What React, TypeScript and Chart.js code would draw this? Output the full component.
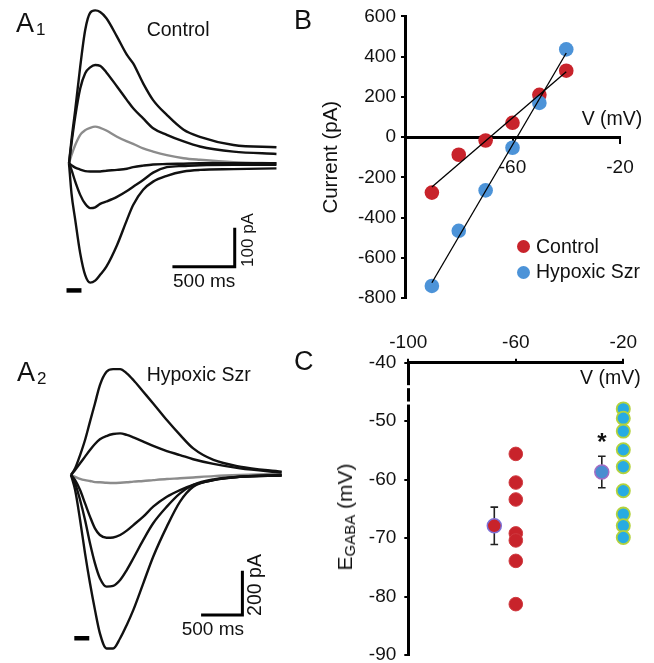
import React, { useEffect, useRef } from "react";
import { Chart, registerables } from "chart.js";

Chart.register(...registerables);

const FONT = '"Liberation Sans", Arial, Helvetica, sans-serif';
const INK = "#111111";

// ---------- A1: Control traces (time ms, current pA) ----------
const a1Time = [0, 20, 50, 90, 130, 170, 210, 250, 300, 385, 465, 515, 595, 675, 785, 920, 1050, 1320, 1665];
const a1Outward1 = [0, 60, 137, 248, 342, 386, 392, 388, 372, 325, 278, 256, 205, 162, 124, 86, 68, 47, 41];
const a1Outward2 = [0, 51, 120, 192, 231, 246, 252, 250, 233, 197, 162, 141, 115, 90, 73, 56, 43, 30, 24];
const a1Grey = [0, 21, 47, 73, 85, 91, 94, 91, 84, 68, 56, 50, 38, 30, 21, 13, 9, 3, 0];
const a1Inward1 = [0, -5, -11, -16, -20, -21, -21, -21, -19, -17, -14, -10, -6, -3, -2, -1, 0, 0, 0];
const a1Inward2 = [0, -17, -47, -81, -104, -115, -113, -104, -98, -86, -71, -60, -43, -24, -10, -7, -5, -4, -4];
const a1Inward3 = [0, -77, -145, -231, -287, -306, -301, -286, -265, -210, -145, -107, -68, -47, -32, -21, -17, -15, -13];

// ---------- A2: Hypoxic seizure traces (time ms, current pA) ----------
const a2Time = [0, 50, 110, 170, 230, 290, 350, 430, 510, 595, 675, 755, 875, 995, 1160, 1320, 1480, 1725, 2045, 2550];
const a2Outward1 = [0, 30, 90, 158, 241, 323, 406, 466, 478, 478, 459, 429, 376, 323, 248, 181, 120, 68, 38, 15];
const a2Outward2 = [0, 23, 53, 83, 113, 140, 161, 176, 185, 188, 181, 170, 151, 131, 108, 90, 71, 50, 30, 11];
const a2Grey = [0, -8, -17, -23, -27, -32, -33, -35, -36, -35, -33, -30, -27, -23, -18, -15, -11, -5, 0, 5];
const a2Inward1 = [0, -23, -68, -128, -188, -241, -271, -283, -282, -271, -251, -226, -188, -143, -98, -68, -45, -23, -8, 0];
const a2Inward2 = [0, -38, -113, -203, -308, -399, -466, -504, -501, -474, -429, -376, -293, -218, -143, -83, -45, -20, -8, -2];
const a2Inward3 = [0, -68, -203, -354, -489, -609, -715, -783, -783, -737, -677, -609, -489, -369, -233, -120, -53, -23, -8, -2];

// ---------- B: I-V relation ----------
const ivVoltage = [-90, -80, -70, -60, -50, -40];
const ivControl = [-276, -88, -17, 71, 210, 330];
const ivHypoxic = [-740, -466, -265, -53, 170, 436];
const ivFitVoltage = [-90, -40];
const ivFitControl = [-248, 325];
const ivFitHypoxic = [-724, 418];
const ivYTicks = { min: -800, max: 600, step: 200 };
const ivXTicks = { min: -100, max: -20, step: 40 };

// ---------- C: E_GABA ----------
const egabaGroupX = [-60, -20];
const egabaControl = [-55.6, -60.5, -63.4, -69.2, -70.4, -73.9, -81.3];
const egabaHypoxic = [-47.9, -49.5, -51.7, -54.9, -57.8, -61.9, -65.9, -67.9, -69.9];
const egabaMeanX = [-68, -28];
const egabaMean = [-67.9, -58.7];
const egabaSem = [3.2, 2.7];
const egabaSignificance = ["", "*"];
const egabaBreaks = [-44.1, -46.9];

const scaleBarA1 = { ms: [830, 1330], pA: [-265, -165], stim: [-20, 100], stimLevel: -326 };
const scaleBarA2 = { ms: [1575, 2075], pA: [-632, -432], stim: [40, 221], stimLevel: -737 };

function TraceChart(props: any) {
  const ref = useRef<HTMLCanvasElement>(null);
  useEffect(() => {
    const { time, traces, bar, xMin, xMax, yMin, yMax } = props;
    const datasets: any[] = traces.map((tr: any) => ({
      data: time.map((t: number, i: number) => ({ x: t, y: tr.values[i] })),
      borderColor: tr.color,
      borderWidth: 2.4,
      pointRadius: 0,
      cubicInterpolationMode: "monotone",
      fill: false,
      clip: false,
    }));
    datasets.push({
      data: [
        { x: bar.ms[0], y: bar.pA[0] },
        { x: bar.ms[1], y: bar.pA[0] },
        { x: bar.ms[1], y: bar.pA[1] },
      ],
      borderColor: "#000",
      borderWidth: 3,
      pointRadius: 0,
      tension: 0,
      borderJoinStyle: "miter",
      borderCapStyle: "butt",
      clip: false,
    });
    datasets.push({
      data: [
        { x: bar.stim[0], y: bar.stimLevel },
        { x: bar.stim[1], y: bar.stimLevel },
      ],
      borderColor: "#000",
      borderWidth: 4.5,
      pointRadius: 0,
      tension: 0,
      borderCapStyle: "butt",
      clip: false,
    });
    const chart = new Chart(ref.current as HTMLCanvasElement, {
      type: "line",
      data: { datasets },
      options: {
        animation: false,
        responsive: false,
        maintainAspectRatio: false,
        events: [],
        layout: { padding: 0 },
        plugins: { legend: { display: false }, tooltip: { enabled: false } },
        scales: {
          x: { type: "linear", display: false, min: xMin, max: xMax },
          y: { type: "linear", display: false, min: yMin, max: yMax },
        },
      } as any,
    });
    return () => chart.destroy();
  }, []);
  return (
    <canvas
      ref={ref}
      width={props.width}
      height={props.height}
      style={{ position: "absolute", left: props.left, top: props.top, width: props.width, height: props.height }}
    />
  );
}

const tickFont = { family: FONT, size: 19 };

function IVChart() {
  const ref = useRef<HTMLCanvasElement>(null);
  useEffect(() => {
    const chart = new Chart(ref.current as HTMLCanvasElement, {
      type: "scatter",
      data: {
        datasets: [
          {
            label: "fit control",
            data: ivFitVoltage.map((v, i) => ({ x: v, y: ivFitControl[i] })),
            showLine: true,
            borderColor: "#000",
            borderWidth: 1.3,
            pointRadius: 0,
            order: 0,
            clip: false,
          },
          {
            label: "fit hypoxic",
            data: ivFitVoltage.map((v, i) => ({ x: v, y: ivFitHypoxic[i] })),
            showLine: true,
            borderColor: "#000",
            borderWidth: 1.3,
            pointRadius: 0,
            order: 1,
            clip: false,
          },
          {
            label: "Hypoxic Szr",
            data: ivVoltage.map((v, i) => ({ x: v, y: ivHypoxic[i] })),
            backgroundColor: "#4c93d8",
            borderColor: "#4c93d8",
            borderWidth: 0,
            pointRadius: 7.3,
            order: 2,
            clip: false,
          },
          {
            label: "Control",
            data: ivVoltage.map((v, i) => ({ x: v, y: ivControl[i] })),
            backgroundColor: "#c8232b",
            borderColor: "#c8232b",
            borderWidth: 0,
            pointRadius: 7.3,
            order: 3,
            clip: false,
          },
        ],
      },
      options: {
        animation: false,
        responsive: false,
        maintainAspectRatio: false,
        events: [],
        layout: { padding: { left: 0, top: 15.5, right: 34, bottom: 22 } },
        plugins: { legend: { display: false }, tooltip: { enabled: false } },
        scales: {
          x: {
            type: "linear",
            min: ivXTicks.min,
            max: ivXTicks.max,
            position: { y: 0 },
            afterFit: (s: any) => {
              s.height = 0;
            },
            ticks: {
              stepSize: ivXTicks.step,
              font: tickFont,
              color: INK,
              padding: 14,
              maxRotation: 0,
              autoSkip: false,
              callback: (v: any) => (v === ivXTicks.min ? "" : String(v)),
            },
            grid: { drawOnChartArea: false, drawTicks: true, tickLength: 5, color: "#000", lineWidth: 2 },
            border: { display: true, color: "#000", width: 3 },
          },
          y: {
            type: "linear",
            min: ivYTicks.min,
            max: ivYTicks.max,
            position: "left",
            afterFit: (s: any) => {
              s.width = 105;
            },
            ticks: { stepSize: ivYTicks.step, font: tickFont, color: INK, padding: 5 },
            grid: { drawOnChartArea: false, drawTicks: true, tickLength: 4, color: "#000", lineWidth: 2 },
            border: { display: true, color: "#000", width: 3 },
            title: {
              display: true,
              text: "Current (pA)",
              color: INK,
              font: { family: FONT, size: 20.5 },
              padding: { top: 19.4, bottom: 0 },
            },
          },
        },
      } as any,
    });
    return () => chart.destroy();
  }, []);
  return (
    <canvas ref={ref} width={354} height={320} style={{ position: "absolute", left: 300, top: 0, width: 354, height: 320 }} />
  );
}

const errorBarPlugin = {
  id: "egabaErrorBars",
  beforeDatasetsDraw(chart: any) {
    const { ctx } = chart;
    const xs = chart.scales.x;
    const ys = chart.scales.y;
    ctx.save();
    ctx.strokeStyle = "#222";
    ctx.lineWidth = 1.6;
    egabaMean.forEach((m, i) => {
      const px = xs.getPixelForValue(egabaMeanX[i]);
      const top = ys.getPixelForValue(m + egabaSem[i]);
      const bot = ys.getPixelForValue(m - egabaSem[i]);
      ctx.beginPath();
      ctx.moveTo(px, top);
      ctx.lineTo(px, bot);
      ctx.moveTo(px - 3.8, top);
      ctx.lineTo(px + 3.8, top);
      ctx.moveTo(px - 3.8, bot);
      ctx.lineTo(px + 3.8, bot);
      ctx.stroke();
      if (egabaSignificance[i]) {
        ctx.fillStyle = INK;
        ctx.font = `bold 24px ${FONT}`;
        ctx.textAlign = "center";
        ctx.textBaseline = "alphabetic";
        ctx.fillText(egabaSignificance[i], px, top - 6);
      }
    });
    ctx.restore();
  },
};

const axisBreakPlugin = {
  id: "axisBreak",
  afterDraw(chart: any) {
    const { ctx, chartArea } = chart;
    const ys = chart.scales.y;
    ctx.save();
    ctx.fillStyle = "#ffffff";
    egabaBreaks.forEach((v) => {
      const py = ys.getPixelForValue(v);
      ctx.fillRect(chartArea.left - 4, py - 1.5, 8, 3);
    });
    ctx.restore();
  },
};

function EgabaChart() {
  const ref = useRef<HTMLCanvasElement>(null);
  useEffect(() => {
    const chart = new Chart(ref.current as HTMLCanvasElement, {
      type: "scatter",
      data: {
        datasets: [
          {
            label: "Control mean",
            data: [{ x: egabaMeanX[0], y: egabaMean[0] }],
            backgroundColor: "#c8232b",
            borderColor: "#7d6fd6",
            borderWidth: 1.5,
            pointRadius: 7,
            order: 0,
            clip: false,
          },
          {
            label: "Hypoxic mean",
            data: [{ x: egabaMeanX[1], y: egabaMean[1] }],
            backgroundColor: "#4a8dd0",
            borderColor: "#a46cc4",
            borderWidth: 1.5,
            pointRadius: 7,
            order: 1,
            clip: false,
          },
          {
            label: "Control",
            data: egabaControl.map((v) => ({ x: egabaGroupX[0], y: v })),
            backgroundColor: "#c8232b",
            borderColor: "#cf3a40",
            borderWidth: 1,
            pointRadius: 6.8,
            order: 2,
            clip: false,
          },
          {
            label: "Hypoxic Szr",
            data: egabaHypoxic.map((v) => ({ x: egabaGroupX[1], y: v })),
            backgroundColor: "#27abe2",
            borderColor: "#b3d23c",
            borderWidth: 1.8,
            pointRadius: 6.6,
            order: 3,
            clip: false,
          },
        ],
      },
      options: {
        animation: false,
        responsive: false,
        maintainAspectRatio: false,
        events: [],
        layout: { padding: { left: 0, top: 0, right: 30.7, bottom: 25 } },
        plugins: { legend: { display: false }, tooltip: { enabled: false } },
        scales: {
          x: {
            type: "linear",
            min: -100,
            max: -20,
            position: "top",
            afterFit: (s: any) => {
              s.height = 42.7;
            },
            ticks: { stepSize: 40, font: tickFont, color: INK, padding: 4.3, maxRotation: 0, autoSkip: false },
            grid: { drawOnChartArea: false, drawTicks: true, tickLength: 4, color: "#000", lineWidth: 2 },
            border: { display: true, color: "#000", width: 3 },
          },
          y: {
            type: "linear",
            min: -90,
            max: -40,
            position: "left",
            afterFit: (s: any) => {
              s.width = 108.3;
            },
            ticks: { stepSize: 10, font: tickFont, color: INK, padding: 8 },
            grid: { drawOnChartArea: false, drawTicks: true, tickLength: 4, color: "#000", lineWidth: 2 },
            border: { display: true, color: "#000", width: 3 },
          },
        },
      } as any,
      plugins: [errorBarPlugin, axisBreakPlugin],
    });
    return () => chart.destroy();
  }, []);
  return (
    <canvas ref={ref} width={354} height={360} style={{ position: "absolute", left: 300, top: 320, width: 354, height: 360 }} />
  );
}

const Txt = ({ x, y, size, children, weight = 400 }: any) => (
  <div
    style={{
      position: "absolute",
      left: x,
      top: y - 0.8465 * size,
      fontSize: size,
      lineHeight: `${size}px`,
      fontWeight: weight,
      color: INK,
      whiteSpace: "nowrap",
    }}
  >
    {children}
  </div>
);

const VTxt = ({ cx, cy, size, children }: any) => (
  <div
    style={{
      position: "absolute",
      left: cx,
      top: cy,
      fontSize: size,
      lineHeight: `${size}px`,
      color: INK,
      whiteSpace: "nowrap",
      transform: "translate(-50%, -50%) rotate(-90deg)",
    }}
  >
    {children}
  </div>
);

const Dot = ({ cx, cy, r, color }: any) => (
  <div
    style={{
      position: "absolute",
      left: cx - r,
      top: cy - r,
      width: 2 * r,
      height: 2 * r,
      borderRadius: "50%",
      background: color,
    }}
  />
);

export default function App() {
  const black = INK;
  const grey = "#8c8c8c";
  const a1Traces = [
    { values: a1Outward1, color: black },
    { values: a1Outward2, color: black },
    { values: a1Inward1, color: black },
    { values: a1Inward2, color: black },
    { values: a1Inward3, color: black },
    { values: a1Grey, color: grey },
  ];
  const a2Traces = [
    { values: a2Outward1, color: black },
    { values: a2Outward2, color: black },
    { values: a2Inward1, color: black },
    { values: a2Inward2, color: black },
    { values: a2Inward3, color: black },
    { values: a2Grey, color: grey },
  ];
  return (
    <div
      style={{
        position: "absolute",
        left: 0,
        top: 0,
        width: 654,
        height: 663,
        overflow: "hidden",
        background: "#ffffff",
        fontFamily: FONT,
      }}
    >
      <TraceChart
        left={0}
        top={0}
        width={300}
        height={310}
        time={a1Time}
        traces={a1Traces}
        bar={scaleBarA1}
        xMin={-553.8}
        xMax={1853.9}
        yMin={-376.2}
        yMax={418.7}
      />
      <TraceChart
        left={0}
        top={320}
        width={300}
        height={343}
        time={a2Time}
        traces={a2Traces}
        bar={scaleBarA2}
        xMin={-859.6}
        xMax={2772.4}
        yMin={-848.8}
        yMax={699.8}
      />
      <IVChart />
      <EgabaChart />

      {/* panel letters */}
      <Txt x={16} y={33.3} size={27}>A</Txt>
      <Txt x={36} y={35} size={17}>1</Txt>
      <Txt x={17} y={382} size={27}>A</Txt>
      <Txt x={37} y={384} size={17}>2</Txt>
      <Txt x={294} y={30} size={27}>B</Txt>
      <Txt x={294} y={371} size={27}>C</Txt>

      {/* A1 labels */}
      <Txt x={146.7} y={36.7} size={19.5}>Control</Txt>
      <Txt x={173} y={287} size={19}>500 ms</Txt>
      <VTxt cx={247} cy={240} size={17}>100 pA</VTxt>

      {/* A2 labels */}
      <Txt x={146.7} y={382} size={19.5}>Hypoxic Szr</Txt>
      <Txt x={181.7} y={635} size={19}>500 ms</Txt>
      <VTxt cx={254.5} cy={585} size={19.5}>200 pA</VTxt>

      {/* B labels */}
      <Txt x={581.7} y={126} size={19.5}>V (mV)</Txt>
      <Dot cx={523.3} cy={246.7} r={6.5} color="#c8232b" />
      <Txt x={536} y={253.3} size={19.5}>Control</Txt>
      <Dot cx={523.3} cy={272.7} r={6.5} color="#4c93d8" />
      <Txt x={536} y={279} size={19.5}>Hypoxic Szr</Txt>

      {/* C labels */}
      <Txt x={580} y={385} size={19.5}>V (mV)</Txt>
      <VTxt cx={347} cy={517} size={21}>
        E<span style={{ fontSize: 15, verticalAlign: "-3px" }}>GABA</span> (mV)
      </VTxt>
    </div>
  );
}
